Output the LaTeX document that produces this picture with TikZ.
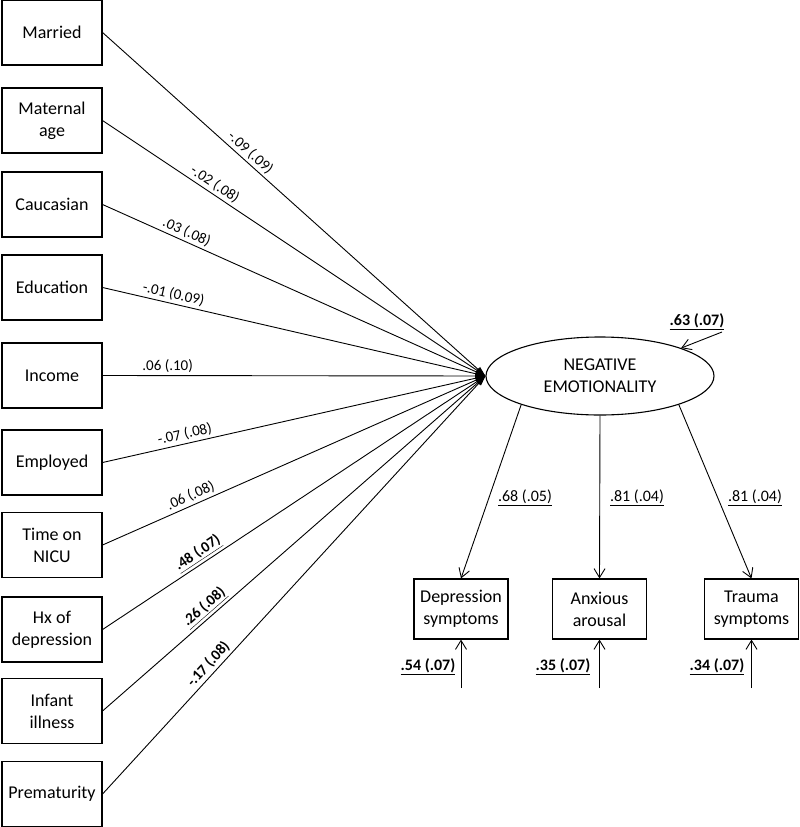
\documentclass[tikz,border=0pt]{standalone}
\usepackage{fontspec}
\setmainfont{Carlito}
\usetikzlibrary{arrows.meta,shapes.geometric}
\begin{document}
\begin{tikzpicture}[x=1pt,y=-1pt,
  varbox/.style={draw,line width=1.1pt,minimum width=100pt,minimum height=65pt,align=center,inner sep=0pt,font=\fontsize{18}{22}\selectfont},
  indbox/.style={draw,line width=1.1pt,minimum width=94pt,minimum height=60pt,align=center,inner sep=0pt,font=\fontsize{18}{22}\selectfont},
  latentnode/.style={draw,line width=1.1pt,ellipse,minimum width=228pt,minimum height=78pt,align=center,inner sep=0pt,font=\fontsize{18}{22}\selectfont},
  regline/.style={line width=0.9pt,-{Triangle[length=10pt,width=6pt]}},
  loadline/.style={line width=0.9pt,-{Straight Barb[length=9pt,width=11pt]}},
  coef/.style={font=\fontsize{15}{17}\selectfont,sloped,above,inner sep=2.5pt},
  estlabel/.style={font=\fontsize{16}{18}\selectfont,inner sep=0pt}
]
\useasboundingbox (0,0) rectangle (800,827);

% exogenous variables
\node[varbox] (mar) at (52,32.5) {Married};
\node[varbox] (age) at (52,120.5) {Maternal\\age};
\node[varbox] (cau) at (52,204.5) {Caucasian};
\node[varbox] (edu) at (52,287.5) {Education};
\node[varbox] (inc) at (52,375.5) {Income};
\node[varbox] (emp) at (52,462.5) {Employed};
\node[varbox] (tim) at (52,545) {Time on\\NICU};
\node[varbox] (hx)  at (52,629.5) {Hx of\\depression};
\node[varbox] (inf) at (52,711) {Infant\\illness};
\node[varbox] (pre) at (52,794) {Prematurity};

% latent
\node[latentnode] (ne) at (600,376) {NEGATIVE\\EMOTIONALITY};

% indicators
\node[indbox] (dep) at (461,609) {Depression\\symptoms};
\node[indbox] (anx) at (599.5,609) {Anxious\\arousal};
\node[indbox] (tra) at (751.5,609) {Trauma\\symptoms};

% regression paths
\draw[regline] (mar.east) -- node[coef,pos=0.37] {-.09 (.09)} (ne.west);
\draw[regline] (age.east) -- node[coef,pos=0.28] {-.02 (.08)} (ne.west);
\draw[regline] (cau.east) -- node[coef,pos=0.21] {.03 (.08)} (ne.west);
\draw[regline] (edu.east) -- node[coef,pos=0.18] {-.01 (0.09)} (ne.west);
\draw[regline] (inc.east) -- node[coef,pos=0.17] {.06 (.10)} (ne.west);
\draw[regline] (emp.east) -- node[coef,pos=0.22] {-.07 (.08)} (ne.west);
\draw[regline] (tim.east) -- node[coef,pos=0.24] {.06 (.08)} (ne.west);
\draw[regline] (hx.east)  -- node[coef,pos=0.265] {\textbf{\underline{.48 (.07)}}} (ne.west);
\draw[regline] (inf.east) -- node[coef,pos=0.285] {\textbf{\underline{.26 (.08)}}} (ne.west);
\draw[regline] (pre.east) -- node[coef,pos=0.295] {\textbf{-.17 (.08)}} (ne.west);

% loadings
\draw[loadline] (ne.200) -- (dep.north);
\draw[loadline] (ne.south) -- (anx.north);
\draw[loadline] (ne.340) -- (tra.north);
\node[estlabel] (l1) at (525,498) {\underline{.68 (.05)}};
\node[estlabel] (l2) at (637,498) {\underline{.81 (.04)}};
\node[estlabel] (l3) at (755,498) {\underline{.81 (.04)}};

% residual of latent
\coordinate (rne) at (722,332);
\draw[loadline] (rne) -- (ne.19);
\node[estlabel] (lne) at (697,322) {\textbf{\underline{.63 (.07)}}};

% residuals of indicators
\coordinate (rdep) at (461,688);
\coordinate (ranx) at (599.5,688);
\coordinate (rtra) at (751.5,688);
\draw[loadline] (rdep) -- (dep.south);
\draw[loadline] (ranx) -- (anx.south);
\draw[loadline] (rtra) -- (tra.south);
\node[estlabel] (ldep) at (428,667) {\textbf{\underline{.54 (.07)}}};
\node[estlabel] (lanx) at (563,667) {\textbf{\underline{.35 (.07)}}};
\node[estlabel] (ltra) at (717,667) {\textbf{\underline{.34 (.07)}}};
\end{tikzpicture}
\end{document}
